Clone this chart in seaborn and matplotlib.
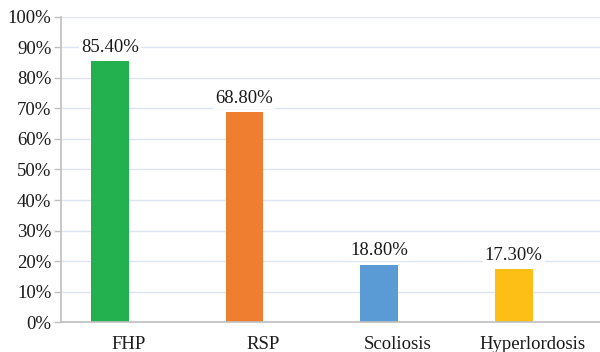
import matplotlib
matplotlib.use("Agg")
import matplotlib.pyplot as plt
import seaborn as sns
import pandas as pd

categories = ["FHP", "RSP", "Scoliosis", "Hyperlordosis"]
values = [85.4, 68.8, 18.8, 17.3]
value_labels = ["85.40%", "68.80%", "18.80%", "17.30%"]
y_ticks = [0, 10, 20, 30, 40, 50, 60, 70, 80, 90, 100]
y_tick_labels = [f"{t}%" for t in y_ticks]
colors = ["#23B04F", "#F07E31", "#5B9BD5", "#FDBF16"]

sns.set_style("white")
plt.rcParams["font.family"] = ["Liberation Serif", "DejaVu Serif"]

df = pd.DataFrame({"category": categories, "value": values})

fig = plt.figure(figsize=(6.0, 3.52), dpi=100)
ax = fig.add_axes([0.102, 0.085, 0.898, 0.867])

sns.barplot(data=df, x="category", y="value", hue="category",
            palette=colors, width=0.28, legend=False, ax=ax,
            saturation=1, edgecolor="none")

ax.set_ylim(0, 100)
ax.set_xlim(-0.36, len(categories) - 0.36)
ax.set_yticks(y_ticks)
ax.set_yticklabels(y_tick_labels, fontsize=13.5, color="#1a1a1a")
ax.yaxis.grid(True, color="#DCE5F1", linewidth=1)
ax.set_axisbelow(True)

# category labels sit at the centre of each slot; bars are drawn left of it
ax.set_xticks([i + 0.14 for i in range(len(categories))])
ax.set_xticklabels(categories, fontsize=13.5, color="#1a1a1a")
ax.set_xticks([i + 0.64 for i in range(len(categories) - 1)], minor=True)
ax.tick_params(axis="x", which="major", length=0, pad=10)
ax.tick_params(axis="x", which="minor", length=5, color="#BFBFBF", width=1)
ax.tick_params(axis="y", length=5, color="#BFBFBF", width=1, pad=2, left=True)

ax.set_xlabel("")
ax.set_ylabel("")
for side in ["top", "right"]:
    ax.spines[side].set_visible(False)
for side in ["left", "bottom"]:
    ax.spines[side].set_color("#BFBFBF")
    ax.spines[side].set_linewidth(1.2)

for i, (v, lab) in enumerate(zip(values, value_labels)):
    ax.text(i, v + 1.8, lab, ha="center", va="bottom", fontsize=13.5,
            color="#1a1a1a",
            bbox=dict(facecolor="white", edgecolor="none", pad=1.5))

fig.savefig("out.png", dpi=100)
